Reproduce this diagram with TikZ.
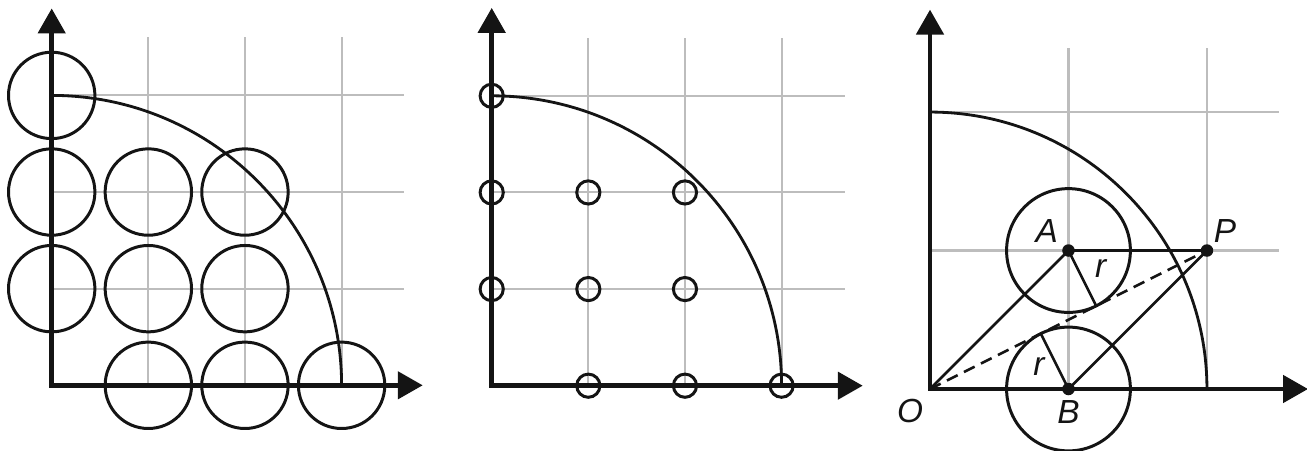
\documentclass[tikz,border=0pt]{standalone}
\usepackage{fontspec}
\setsansfont{Liberation Sans}
\usepackage{tikz}
\usetikzlibrary{arrows.meta,positioning}
\definecolor{Ink}{HTML}{141414}
\definecolor{GridGray}{HTML}{BDBDBD}
\tikzset{
  axes/.style={{Triangle[length=5mm,width=5.4mm]}-{Triangle[length=5mm,width=5.4mm]},
              line width=0.95mm,draw=Ink},
  gridline/.style={draw=GridGray,line width=1.2pt},
  quarter/.style={draw=Ink,line width=1.6pt},
  ring/.style={draw=Ink,line width=1.7pt},
  link/.style={draw=Ink,line width=1.5pt},
  dashlink/.style={draw=Ink,line width=1.5pt,dash pattern=on 6.8pt off 4pt},
  dot/.style={circle,fill=Ink,inner sep=0pt,minimum size=2.5mm},
  lbl/.style={font=\sffamily\itshape\fontsize{19}{21}\selectfont,inner sep=0pt,text=Ink}
}
\begin{document}
\begin{tikzpicture}[x=0.02cm,y=0.02cm]
  \useasboundingbox (0,0) rectangle (1307,450);
  % left: large circles on the lattice
  \begin{scope}[shift={(51.7,64.7)},x=1.933cm,y=1.933cm]
    \foreach \i in {1,2,3} {
      \draw[gridline] (\i,0) -- (\i,3.6);
      \draw[gridline] (0,\i) -- (3.65,\i);
    }
    \draw[quarter] (0,3) arc[start angle=90,end angle=0,radius=3];
    \foreach \p in {(0,3),(0,2),(1,2),(2,2),(0,1),(1,1),(2,1),(1,0),(2,0),(3,0)}
      \draw[ring] \p circle (0.447);
    \coordinate (O1) at (0,0);
    \coordinate (Y1) at (0,3.9);
    \coordinate (X1) at (3.84,0);
    \draw[axes] (Y1) -- (O1) -- (X1);
  \end{scope}
  % middle: small circles on the lattice
  \begin{scope}[shift={(491.7,64.3)},x=1.933cm,y=1.933cm]
    \foreach \i in {1,2,3} {
      \draw[gridline] (\i,0) -- (\i,3.6);
      \draw[gridline] (0,\i) -- (3.66,\i);
    }
    \draw[quarter] (0,3) arc[start angle=90,end angle=0,radius=3];
    \foreach \p in {(0,3),(0,2),(1,2),(2,2),(0,1),(1,1),(2,1),(1,0),(2,0),(3,0)}
      \draw[ring] \p circle (0.12);
    \coordinate (O2) at (0,0);
    \coordinate (Y2) at (0,3.91);
    \coordinate (X2) at (3.84,0);
    \draw[axes] (Y2) -- (O2) -- (X2);
  \end{scope}
  % right: two tangent circles
  \begin{scope}[shift={(930,61)},x=2.77cm,y=2.77cm]
    \foreach \i in {1,2} {
      \draw[gridline] (\i,0) -- (\i,2.46);
      \draw[gridline] (0,\i) -- (2.52,\i);
    }
    \draw[quarter] (0,2) arc[start angle=90,end angle=0,radius=2];
    \coordinate (O) at (0,0);
    \coordinate (TA) at (1.2,0.6);
    \coordinate (TB) at (0.8,0.4);
    \coordinate (Y3) at (0,2.74);
    \coordinate (X3) at (2.73,0);
    \draw[ring] (1,1) circle (0.447);
    \draw[ring] (1,0) circle (0.447);
    \node[dot] (A) at (1,1) {};
    \node[dot] (P) at (2,1) {};
    \node[dot] (B) at (1,0) {};
    \draw[link] (O) -- (A.center);
    \draw[link] (A.center) -- (P.center);
    \draw[link] (B.center) -- (P.center);
    \draw[dashlink] (O) -- (P.center);
    \draw[link] (A.center) -- (TA);
    \draw[link] (B.center) -- (TB);
    \draw[axes] (Y3) -- (O) -- (X3);
    \node[lbl] (labA) at (0.843,1.143) {A};
    \node[lbl] (labP) at (2.13,1.143) {P};
    \node[lbl] (labrA) at (1.232,0.871) {r};
    \node[lbl] (labrB) at (0.787,0.161) {r};
    \node[lbl] (labB) at (1.0,-0.168) {B};
    \node[lbl] (labO) at (-0.144,-0.157) {O};
  \end{scope}
\end{tikzpicture}
\end{document}
